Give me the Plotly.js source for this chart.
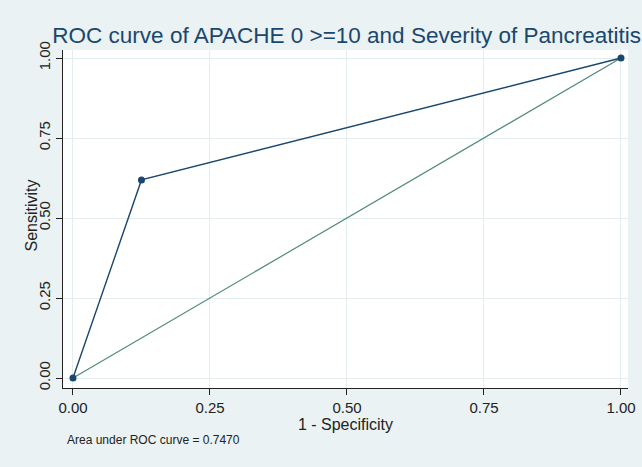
<!DOCTYPE html>
<html>
<head>
<meta charset="utf-8">
<script src="https://cdn.plot.ly/plotly-3.0.1.min.js"></script>
<style>html,body{margin:0;padding:0;background:#eaf2f3;}#chart{width:642px;height:467px;}</style>
</head>
<body>
<div id="chart"></div>
<script>
// Data
const falsePositiveRate = [0, 0.125, 1];   // 1 - Specificity
const sensitivity = [0, 0.619, 1];
const refX = [0, 1];
const refY = [0, 1];
const tickVals = [0, 0.25, 0.5, 0.75, 1];
const tickText = ["0.00", "0.25", "0.50", "0.75", "1.00"];
const titleText = "ROC curve of APACHE 0 >=10 and Severity of Pancreatitis";
const xTitle = "1 - Specificity";
const yTitle = "Sensitivity";
const noteText = "Area under ROC curve = 0.7470";

const font = "Liberation Sans, Arial, sans-serif";

const traces = [
  {
    x: refX, y: refY, mode: "lines", type: "scatter",
    line: {color: "#4f8a7c", width: 1.2},
    hoverinfo: "skip", showlegend: false
  },
  {
    x: falsePositiveRate, y: sensitivity, mode: "lines+markers", type: "scatter",
    line: {color: "#1a476f", width: 1.4},
    marker: {color: "#1a476f", size: 7, symbol: "circle"},
    showlegend: false
  }
];

const layout = {
  width: 642, height: 467,
  paper_bgcolor: "#eaf2f3",
  plot_bgcolor: "#ffffff",
  margin: {l: 63, r: 14, t: 50, b: 79},
  font: {family: font, color: "#222222"},
  title: {
    text: titleText,
    font: {family: font, size: 22.5, color: "#1a476f"},
    x: 0.54, xanchor: "center", y: 0.925, yanchor: "middle"
  },
  xaxis: {
    range: [-0.0182, 1.0128],
    tickvals: tickVals, ticktext: tickText,
    showline: true, linecolor: "#222222", linewidth: 1.2,
    ticks: "outside", ticklen: 6, tickcolor: "#222222", tickwidth: 1,
    showgrid: true, gridcolor: "#e4eef0", gridwidth: 1,
    zeroline: false, mirror: false,
    tickfont: {family: font, size: 15, color: "#222222"},
    title: {text: xTitle, font: {family: font, size: 16, color: "#222222"}, standoff: 0}
  },
  yaxis: {
    range: [-0.03125, 1.025],
    tickvals: tickVals, ticktext: tickText,
    tickangle: -90,
    showline: true, linecolor: "#222222", linewidth: 1.2,
    ticks: "outside", ticklen: 6, tickcolor: "#222222", tickwidth: 1,
    showgrid: true, gridcolor: "#e4eef0", gridwidth: 1,
    zeroline: false, mirror: false,
    tickfont: {family: font, size: 15, color: "#222222"}
  },
  annotations: [
    {
      text: yTitle, xref: "paper", yref: "paper",
      x: -0.055, y: 0.51, xanchor: "center", yanchor: "middle", textangle: -90,
      showarrow: false, font: {family: font, size: 16, color: "#222222"}
    },
    {
      text: noteText, xref: "paper", yref: "paper",
      x: 0.004, y: -0.155, xanchor: "left", yanchor: "middle",
      showarrow: false, font: {family: font, size: 12, color: "#222222"}
    }
  ]
};

Plotly.newPlot("chart", traces, layout, {displayModeBar: false, staticPlot: true});
</script>
</body>
</html>
